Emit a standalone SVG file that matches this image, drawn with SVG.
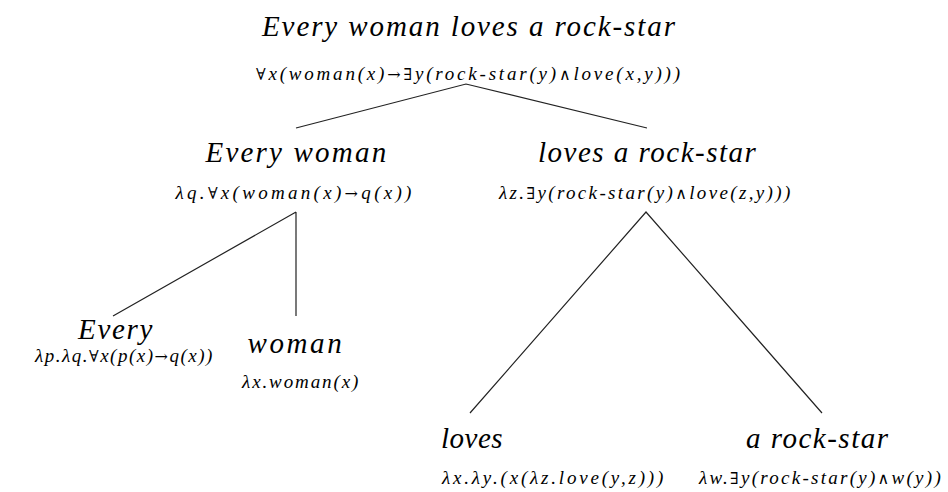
<svg xmlns="http://www.w3.org/2000/svg" width="948" height="492" viewBox="0 0 948 492">
<rect width="948" height="492" fill="#ffffff"/>
<g id="connectors" fill="none" stroke="#222222" stroke-width="1.2">
<path d="M296,128 L466,84 L647,128"/>
<path d="M113,316 L296,212 M296,212 L296,316"/>
<path d="M470,413 L646,212 L822,413"/>
</g>
<g id="n-root">
<text font-family="Liberation Serif" font-style="italic" font-size="29" letter-spacing="1.9" x="262" y="36">Every woman loves a rock-star</text>
<text font-family="Liberation Serif" font-style="italic" font-size="19" letter-spacing="2.8" x="256" y="80"><tspan font-family="DejaVu Serif" font-style="normal" font-size="16">∀</tspan>x(woman(x)<tspan font-family="DejaVu Serif" font-style="normal" font-size="16">→∃</tspan>y(rock-star(y)<tspan font-family="DejaVu Serif" font-style="normal" font-size="16">∧</tspan>love(x,y)))</text>
</g>
<g id="n-every-woman">
<text font-family="Liberation Serif" font-style="italic" font-size="29" letter-spacing="2.2" x="205.5" y="162">Every woman</text>
<text font-family="Liberation Serif" font-style="italic" font-size="19" letter-spacing="3.3" x="175.5" y="199">λq.<tspan font-family="DejaVu Serif" font-style="normal" font-size="16">∀</tspan>x(woman(x)<tspan font-family="DejaVu Serif" font-style="normal" font-size="16">→</tspan>q(x))</text>
</g>
<g id="n-loves-a-rock-star">
<text font-family="Liberation Serif" font-style="italic" font-size="29" letter-spacing="1.5" x="538" y="162">loves a rock-star</text>
<text font-family="Liberation Serif" font-style="italic" font-size="19" letter-spacing="2.35" x="499" y="199">λz.<tspan font-family="DejaVu Serif" font-style="normal" font-size="16">∃</tspan>y(rock-star(y)<tspan font-family="DejaVu Serif" font-style="normal" font-size="16">∧</tspan>love(z,y)))</text>
</g>
<g id="n-every">
<text font-family="Liberation Serif" font-style="italic" font-size="29" letter-spacing="1.7" x="78" y="339">Every</text>
<text font-family="Liberation Serif" font-style="italic" font-size="19" letter-spacing="1.5" x="35" y="362">λp.λq.<tspan font-family="DejaVu Serif" font-style="normal" font-size="16">∀</tspan>x(p(x)<tspan font-family="DejaVu Serif" font-style="normal" font-size="16">→</tspan>q(x))</text>
</g>
<g id="n-woman">
<text font-family="Liberation Serif" font-style="italic" font-size="29" letter-spacing="2.6" x="247.5" y="353">woman</text>
<text font-family="Liberation Serif" font-style="italic" font-size="19" letter-spacing="1.9" x="242" y="388">λx.woman(x)</text>
</g>
<g id="n-loves">
<text font-family="Liberation Serif" font-style="italic" font-size="29" letter-spacing="0.5" x="441" y="448">loves</text>
<text font-family="Liberation Serif" font-style="italic" font-size="19" letter-spacing="2.8" x="442" y="484">λx.λy.(x(λz.love(y,z)))</text>
</g>
<g id="n-a-rock-star">
<text font-family="Liberation Serif" font-style="italic" font-size="29" letter-spacing="1.5" x="746" y="448">a rock-star</text>
<text font-family="Liberation Serif" font-style="italic" font-size="19" letter-spacing="2.27" x="699" y="484">λw.<tspan font-family="DejaVu Serif" font-style="normal" font-size="16">∃</tspan>y(rock-star(y)<tspan font-family="DejaVu Serif" font-style="normal" font-size="16">∧</tspan>w(y))</text>
</g>
</svg>
